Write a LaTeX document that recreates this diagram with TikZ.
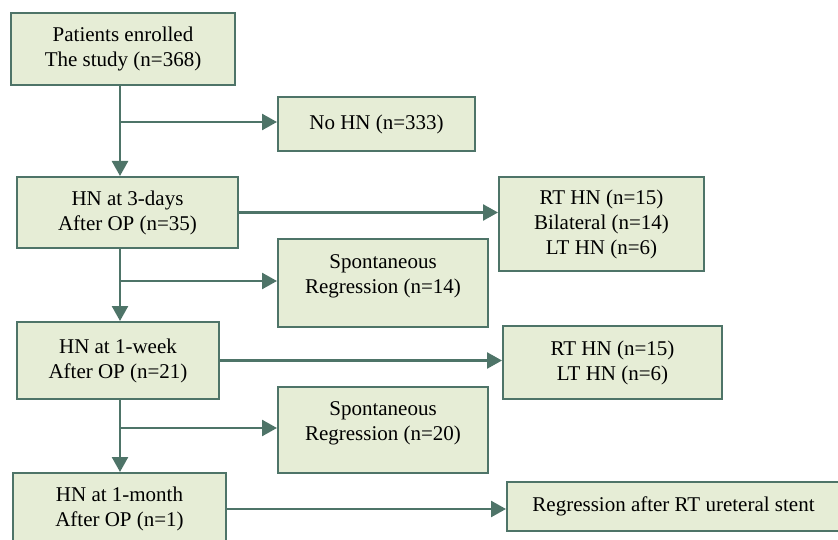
\documentclass[tikz,border=0pt]{standalone}
\usepackage{fontspec}
\setmainfont{Liberation Serif}
\usetikzlibrary{arrows.meta, positioning}
\definecolor{boxline}{RGB}{78,116,104}
\definecolor{boxfill}{RGB}{230,237,214}

\begin{document}
\begin{tikzpicture}[x=1pt, y=-1pt,
    box/.style={draw=boxline, fill=boxfill, line width=2pt, align=center,
        inner sep=0pt, font=\fontsize{21}{25}\selectfont},
    flow/.style={draw=boxline, line width=2.5pt, -{Triangle[width=16pt, length=15pt]}}]
    \useasboundingbox (0,0) rectangle (838,540);

    % Stages down the left side
    \node[box, minimum width=224pt, minimum height=72pt] (enrolled) at (123,49) {Patients enrolled\\The study (n=368)};
    \node[box, minimum width=221pt, minimum height=71pt] (hn3d) at (127.5,212.5) {HN at 3-days\\After OP (n=35)};
    \node[box, minimum width=202pt, minimum height=77pt] (hn1w) at (118,360.5) {HN at 1-week\\After OP (n=21)};
    \node[box, minimum width=213pt, minimum height=72pt] (hn1m) at (119.5,509) {HN at 1-month\\After OP (n=1)};

    % Outcomes on the right
    \node[box, minimum width=197pt, minimum height=54pt] (nohn) at (376.5,124) {No HN (n=333)};
    \node[box, minimum width=210pt, minimum height=88pt] (spont14) at (383,283) {Spontaneous\\Regression (n=14)\\[-8pt]\mbox{}};
    \node[box, minimum width=210pt, minimum height=86pt] (spont20) at (383,430) {Spontaneous\\Regression (n=20)\\[-8pt]\mbox{}};
    \node[box, minimum width=205pt, minimum height=94pt] (side3d) at (601.5,224) {RT HN (n=15)\\Bilateral (n=14)\\LT HN (n=6)};
    \node[box, minimum width=219pt, minimum height=73pt] (side1w) at (612.5,362.5) {RT HN (n=15)\\LT HN (n=6)};
    \node[box, minimum width=333pt, minimum height=49pt] (stent) at (673.5,506.5) {Regression after RT ureteral stent};

    % Branch points on the trunk
    \coordinate (j1) at (120,122);
    \coordinate (j2) at (120,281);
    \coordinate (j3) at (120,428);

    \draw[flow] (enrolled.south -| j1) -- (hn3d.north -| j1);
    \draw[flow] (j1) -- (j1 -| nohn.west);
    \draw[flow] (hn3d.south -| j2) -- (hn1w.north -| j2);
    \draw[flow] (j2) -- (j2 -| spont14.west);
    \draw[flow] (hn1w.south -| j3) -- (hn1m.north -| j3);
    \draw[flow] (j3) -- (j3 -| spont20.west);

    \draw[flow] (hn3d.east) -- (hn3d.east -| side3d.west);
    \draw[flow] (hn1w.east) -- (hn1w.east -| side1w.west);
    \draw[flow] (hn1m.east) -- (hn1m.east -| stent.west);

\end{tikzpicture}
\end{document}
